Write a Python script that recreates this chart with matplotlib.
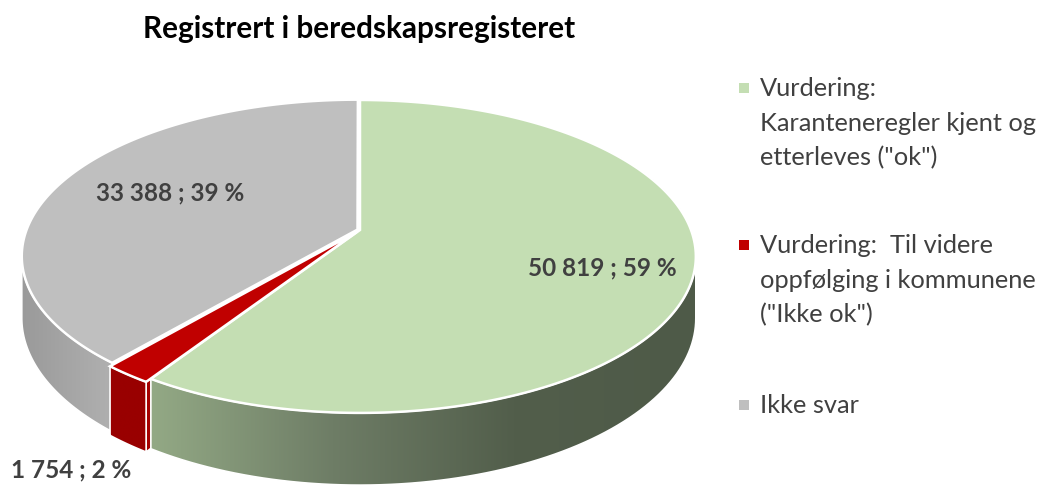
import numpy as np
import matplotlib.pyplot as plt
from matplotlib.patches import Polygon, Rectangle
from matplotlib.colors import LinearSegmentedColormap

plt.rcParams['font.family'] = ['Lato', 'DejaVu Sans']

title = "Registrert i beredskapsregisteret"
categories = ['Vurdering:\nKaranteneregler kjent og\netterleves ("ok")',
              'Vurdering:  Til videre\noppfølging i kommunene\n("Ikke ok")',
              'Ikke svar']
values = [50819, 1754, 33388]

top_colors = ['#C4DEB3', '#C00000', '#BFBFBF']
side_colors = [['#93A985', '#6E7D66', '#525E4B', '#4E5A48'],
               ['#990000', '#990000'],
               ['#B0B0B0', '#9A9A9A']]
explode = [0, 0.018, 0.008]
label_pos = [(602, 268), (71, 470), (170, 193)]

# pie geometry in pixels, q = perspective strength
cx, cy, rx, ry, depth, q = 360, 230, 331, 152, 60, 0.169

fig = plt.figure(figsize=(10.42, 4.86), dpi=100)
ax = fig.add_axes([0, 0, 1, 1])
ax.axis('off')


def pt(theta, r=1.0, off=(0, 0)):
    t = np.radians(theta)
    u = off[0] + r * np.sin(t)
    v = off[1] - r * np.cos(t)
    s = 1 / (1 - q * v)
    return cx + rx * u * s, cy + ry * v * s, s


total = sum(values)
angles = np.cumsum([0] + [v / total * 360 for v in values])
t_lo = np.degrees(np.arccos(-q))
t_hi = 360 - t_lo


def side(t0, t1, off, colors, z):
    a = max(t0, t_lo)
    b = min(t1, t_hi)
    if a >= b:
        return
    th = np.linspace(a, b, 80)
    xs, ys, s = pt(th, off=off)
    verts = np.vstack([np.column_stack([xs, ys]),
                       np.column_stack([xs[::-1], (ys + depth * s)[::-1]])])
    poly = Polygon(verts, closed=True, facecolor='none', edgecolor='white', lw=1.2, zorder=z + 0.1)
    ax.add_patch(poly)
    cmap = LinearSegmentedColormap.from_list('s', colors)
    x0, x1 = verts[:, 0].min(), verts[:, 0].max()
    y0, y1 = verts[:, 1].min(), verts[:, 1].max()
    grad = np.linspace(1, 0, 256)[None, :] if x1 < cx else np.linspace(0, 1, 256)[None, :]
    im = ax.imshow(grad, cmap=cmap, extent=(x0, x1, y1, y0), aspect='auto', zorder=z)
    im.set_clip_path(poly)


def face(theta, off, color, z):
    x0, y0, s0 = pt(theta, r=0, off=off)
    x1, y1, s1 = pt(theta, off=off)
    verts = [(x0, y0), (x1, y1), (x1, y1 + depth * s1), (x0, y0 + depth * s0)]
    ax.add_patch(Polygon(verts, closed=True, facecolor=color, edgecolor='white', lw=1.2, zorder=z))


def top(t0, t1, off, color, z):
    th = np.linspace(t0, t1, 200)
    xs, ys, _ = pt(th, off=off)
    c0, c1, _ = pt(0, r=0, off=off)
    verts = [(c0, c1)] + list(zip(xs, ys))
    ax.add_patch(Polygon(verts, closed=True, facecolor=color, edgecolor='white', lw=1.8, zorder=z))


offs = []
for i in range(len(values)):
    mid = np.radians((angles[i] + angles[i + 1]) / 2)
    offs.append((explode[i] * np.sin(mid), -explode[i] * np.cos(mid)))

# back to front
face(angles[1], offs[1], '#A50000', 1)
side(angles[2], angles[3], offs[2], side_colors[2], 4)
top(angles[2], angles[3], offs[2], top_colors[2], 6)
side(angles[0], angles[1], offs[0], side_colors[0], 7)
top(angles[0], angles[1], offs[0], top_colors[0], 9)
side(angles[1], angles[2], offs[1], side_colors[1], 10)
top(angles[1], angles[2], offs[1], top_colors[1], 12)

for i, v in enumerate(values):
    txt = f"{v:,}".replace(",", " ") + f" ; {round(100 * v / total)} %"
    ax.text(label_pos[i][0], label_pos[i][1], txt, ha='center', va='center',
            fontsize=17.5, fontweight='bold', color='#404040', zorder=20)

ax.text(359, 29, title, ha='center', va='center', fontsize=21.4, fontweight='bold', color='black')

# legend
leg_y = [88, 245, 405]
for i, lab in enumerate(categories):
    ax.add_patch(Rectangle((739, leg_y[i] - 5), 10, 10, facecolor=top_colors[i], edgecolor='none'))
    for j, line in enumerate(lab.split('\n')):
        ax.text(760, leg_y[i] + j * 35, line, ha='left', va='center', fontsize=18.3, color='#404040')

ax.set_xlim(0, 1042)
ax.set_ylim(486, 0)
fig.savefig('out.png')
